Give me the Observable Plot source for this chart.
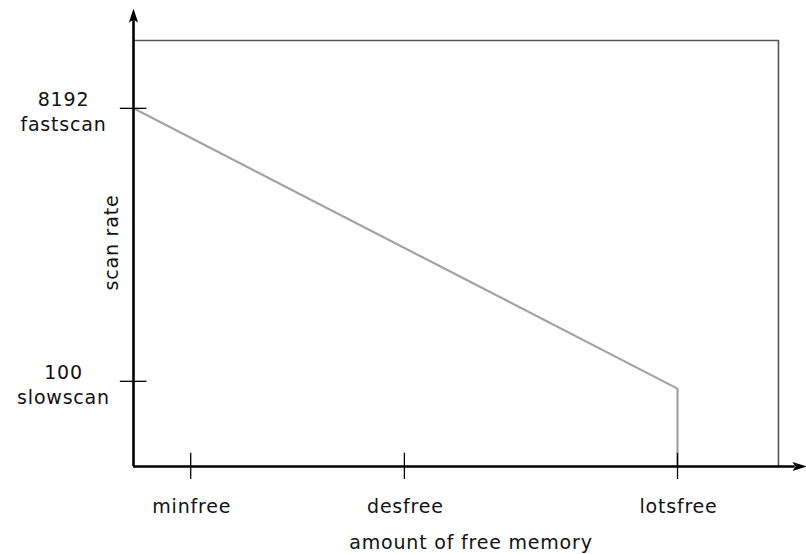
<!DOCTYPE html>
<html><head><meta charset="utf-8">
<script src="https://cdn.jsdelivr.net/npm/d3@7"></script>
<script src="https://cdn.jsdelivr.net/npm/@observablehq/plot@0.6"></script>
<style>body{margin:0;background:#fff}</style>
</head><body><div id="chart"></div>
<script>
// Schematic chart: axes in arbitrary units
const yTickLabels = ["8192\nfastscan", "100\nslowscan"];
const yTickValues = [78.2, 18.6];
const xTickLabels = ["minfree", "desfree", "lotsfree"];
const xTickValues = [10.2, 48.3, 97];
const curveX = [0, 97, 97];
const curveY = [78.2, 17, 0];
const boxX = [0, 115, 115];
const boxY = [93, 93, 0];
const xMax = 120, yMax = 100;
const xTitle = ["amount of free memory"];
const yTitle = ["scan rate"];

const curve = curveX.map((x, i) => ({x, y: curveY[i]}));
const box = boxX.map((x, i) => ({x, y: boxY[i]}));

const arrowHead = {
  draw(context) {
    context.moveTo(0, 0);
    context.lineTo(4.6, 14);
    context.lineTo(0, 11);
    context.lineTo(-4.6, 14);
    context.closePath();
  }
};

const font = "'DejaVu Sans', Verdana, sans-serif";

const chart = Plot.plot({
  width: 806,
  height: 554,
  marginLeft: 133,
  marginRight: 0,
  marginTop: 8,
  marginBottom: 88,
  style: {fontFamily: font, fontSize: "19px", letterSpacing: "0.8px", background: "#fff", color: "#111"},
  x: {domain: [0, xMax], axis: null},
  y: {domain: [0, yMax], axis: null},
  marks: [
    Plot.line(box, {x: "x", y: "y", stroke: "#555", strokeWidth: 1.6}),
    Plot.line(curve, {x: "x", y: "y", stroke: "#a3a3a3", strokeWidth: 2.2}),
    Plot.ruleX([0], {y1: 0, y2: yMax - 2, stroke: "#000", strokeWidth: 2.6}),
    Plot.ruleY([0], {x1: 0, x2: xMax - 2, stroke: "#000", strokeWidth: 2.6}),
    Plot.dot([{x: 0, y: yMax}], {x: "x", y: "y", symbol: arrowHead, fill: "#000", stroke: null}),
    Plot.dot([{x: xMax, y: 0}], {x: "x", y: "y", symbol: arrowHead, rotate: 90, fill: "#000", stroke: null}),
    Plot.ruleY(yTickValues, {y: d => d, x1: -2.35, x2: 2.4, stroke: "#000", strokeWidth: 1.3}),
    Plot.ruleX(xTickValues, {x: d => d, y1: -2.84, y2: 2.9, stroke: "#000", strokeWidth: 1.3}),
    Plot.text(yTickValues, {x: 0, y: d => d, text: (d, i) => yTickLabels[i], dx: -70, dy: 2,
      textAnchor: "middle", lineHeight: 1.35, fontSize: 19, fill: "#111"}),
    Plot.text(xTickValues, {x: d => d, y: 0, text: (d, i) => xTickLabels[i], dx: 1, dy: 40.5,
      textAnchor: "middle", fontSize: 19, fill: "#111"}),
    Plot.text(xTitle, {x: 60, y: 0, text: d => d, dy: 76.5, dx: 1, textAnchor: "middle", fontSize: 19, fill: "#111"}),
    Plot.text(yTitle, {x: 0, y: 48.9, text: d => d, dx: -21.7, rotate: -90, textAnchor: "middle", fontSize: 19, fill: "#111"})
  ]
});
document.getElementById("chart").append(chart);
</script>
</body></html>
